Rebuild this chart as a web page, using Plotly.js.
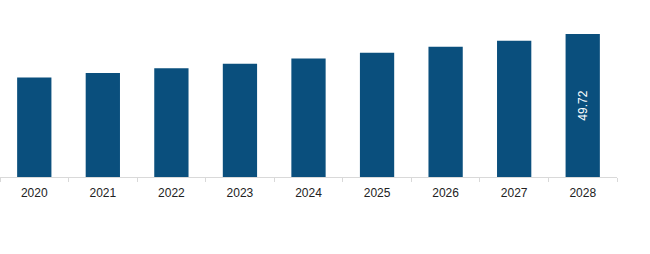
<!DOCTYPE html>
<html>
<head>
<meta charset="utf-8">
<script src="https://cdn.plot.ly/plotly-3.0.1.min.js"></script>
<style>html,body{margin:0;padding:0;background:#fff;}#chart{width:650px;height:254px;}</style>
</head>
<body>
<div id="chart"></div>
<script>
const years = ["2020","2021","2022","2023","2024","2025","2026","2027","2028"];
const values = [34.63, 36.14, 37.79, 39.40, 41.16, 43.16, 45.27, 47.37, 49.72];
const labels = ["", "", "", "", "", "", "", "", "49.72"];

Plotly.newPlot("chart", [{
  type: "bar",
  x: years,
  y: values,
  text: labels,
  textposition: "inside",
  insidetextanchor: "middle",
  textangle: -90,
  textfont: {family: "Liberation Sans, Arial, sans-serif", size: 12, color: "#ffffff"},
  marker: {color: "#0a4f7d"},
  hoverinfo: "none"
}], {
  width: 650, height: 254,
  margin: {l: 0, r: 33, t: 34, b: 77, pad: 0},
  paper_bgcolor: "#ffffff", plot_bgcolor: "#ffffff",
  bargap: 0.5,
  showlegend: false,
  font: {family: "Liberation Sans, Arial, sans-serif", size: 12, color: "#222222"},
  xaxis: {
    type: "category",
    showline: true, linecolor: "#d9d9d9", linewidth: 1,
    ticks: "outside", tickson: "boundaries", ticklen: 4, tickcolor: "#d9d9d9", tickwidth: 1,
    ticklabelstandoff: 5,
    showgrid: false, zeroline: false,
    tickfont: {family: "Liberation Sans, Arial, sans-serif", size: 12, color: "#222222"}
  },
  yaxis: {
    range: [0, 49.72], autorange: false,
    visible: false, showgrid: false, zeroline: false
  }
}, {displayModeBar: false, staticPlot: true});
</script>
</body>
</html>
